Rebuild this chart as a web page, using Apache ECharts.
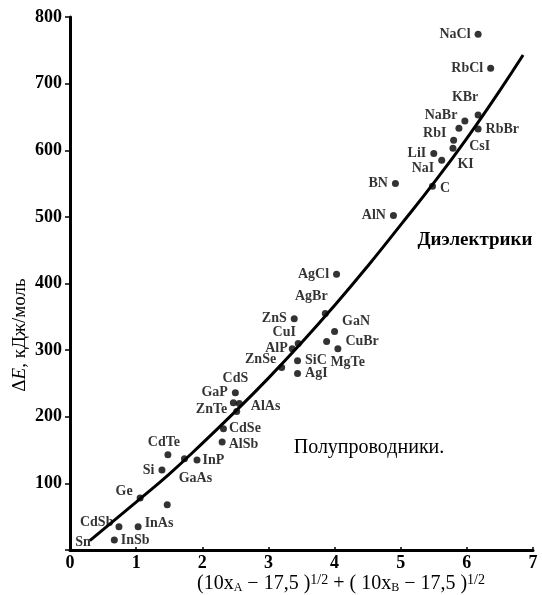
<!DOCTYPE html>
<html>
<head>
<meta charset="utf-8">
<script src="https://cdn.jsdelivr.net/npm/echarts@6/dist/echarts.min.js"></script>
<style>html,body{margin:0;padding:0;background:#fff;}#c{width:542px;height:595px;}</style>
</head>
<body>
<div id="c"></div>
<script>
// ---- data ----
const names = ["NaCl","RbCl","KBr","NaBr","RbBr","RbI","CsI","KI","LiI","NaI","C","BN","AlN",
  "AgCl","AgBr","ZnS","GaN","CuI","AlP","CuBr","MgTe","SiC","ZnSe","AgI",
  "CdS","GaP","ZnTe","AlAs","CdSe","AlSb","CdTe","GaAs","InP","Si","Ge","","CdSb","InAs","InSb","Sn"];
const xVals = [6.17,6.36,6.17,5.97,6.17,5.88,5.80,5.79,5.50,5.62,5.48,4.92,4.89,
  4.03,3.86,3.39,4.00,3.45,3.36,4.05,3.88,3.44,3.20,3.44,
  2.47,2.50,2.52,2.56,2.32,2.30,1.48,1.73,1.92,1.39,1.06,1.47,0.74,1.03,0.67,0.30];
const yVals = [774,723,653,644,632,633,615,603,595,585,546,550,502,
  414,355,347,328,310,302,302,313,284,274,265,
  221,236,208,220,182,162,143,137,135,120,78,68,35,35,15,14];
const curveX = [0.3,1,1.5,2,2.5,3,3.5,4,4.5,5,5.5,6,6.5,6.85];
const curveY = [14,72,114,160,208,258,311,367,426,488,551,618,690,743];
const xTicks = [0,1,2,3,4,5,6,7];
const yTicks = [100,200,300,400,500,600,700,800];

// ---- label placement (style only) ----
const labelPlace = {
  NaCl:['left',[0,0]], RbCl:['left',[0,0]], KBr:['top',[-13,-3]], NaBr:['left',[0,-6]],
  RbBr:['right',[0,0]], RbI:['left',[-5,5]], CsI:['right',[8,6]], KI:['right',[-3,16]],
  LiI:['left',[0,0]], NaI:['left',[0,8]], C:['right',[0,2]], BN:['left',[0,0]], AlN:['left',[0,0]],
  AgCl:['left',[0,0]], AgBr:['top',[-14,-3]], ZnS:['left',[0,0]], GaN:['right',[0,-10]],
  CuI:['top',[-14,3]], AlP:['left',[3,0]], CuBr:['right',[0,-7]], MgTe:['bottom',[21,6]],
  SiC:['right',[0,0]], ZnSe:['left',[2,-8]], AgI:['right',[0,0]], CdS:['top',[2,-10]],
  GaP:['left',[0,0]], ZnTe:['left',[-2,-2]], AlAs:['right',[4,3]], CdSe:['right',[-2,0]],
  AlSb:['right',[-1,2]], CdTe:['top',[-4,2]], GaAs:['bottom',[11,5]], InP:['right',[-2,0]],
  Si:['left',[0,0]], Ge:['left',[0,-7]], CdSb:['left',[2,-4]], InAs:['right',[-1,-3]],
  InSb:['right',[-1,0]], Sn:['left',[5,2]]
};
const serif = '"Liberation Serif","DejaVu Serif",serif';

const pts = names.map((n,i)=>{
  const p = labelPlace[n];
  const item = {name:n, value:[xVals[i], yVals[i]]};
  if (p) item.label = {show:true, position:p[0], offset:p[1], distance:4};
  else item.label = {show:false};
  if (n === 'Sn') item.symbolSize = 0;
  return item;
});

const chart = echarts.init(document.getElementById('c'), null, {renderer:'canvas'});
chart.setOption({
  animation:false,
  backgroundColor:'#fff',
  grid:{left:70, right:9, top:17, bottom:45, containLabel:false},
  xAxis:{type:'value', min:0, max:7, interval:1,
    axisLine:{show:true, onZero:false, lineStyle:{color:'#000', width:3}},
    axisTick:{show:true, inside:true, length:3, lineStyle:{color:'#000', width:1.5}},
    axisLabel:{color:'#000', fontFamily:serif, fontSize:18, fontWeight:'bold', margin:4,
      formatter:v=>xTicks.includes(v)?String(v):''},
    splitLine:{show:false}},
  yAxis:{type:'value', min:0, max:800, interval:100,
    axisLine:{show:true, onZero:false, lineStyle:{color:'#000', width:3}},
    axisTick:{show:true, inside:false, length:5, lineStyle:{color:'#000', width:1.5}},
    axisLabel:{color:'#000', fontFamily:serif, fontSize:18, fontWeight:'bold', margin:8,
      formatter:v=>yTicks.includes(v)?String(v):''},
    splitLine:{show:false}},
  series:[
    {type:'line', data:curveX.map((x,i)=>[x,curveY[i]]), smooth:true, symbol:'none',
      lineStyle:{color:'#000', width:3}, z:2},
    {type:'scatter', data:pts, symbolSize:7, itemStyle:{color:'#000'}, z:3,
      label:{color:'#000', fontFamily:serif, fontSize:14, fontWeight:'bold', formatter:'{b}'}}
  ],
  graphic:[
    {type:'text', x:20, y:335, rotation:Math.PI/2, style:{
      rich:{n:{font:'19px '+serif, fill:'#000'}, i:{font:'italic 19px '+serif, fill:'#000'}},
      text:'{n|Δ}{i|E}{n|, кДж/моль}', align:'center', verticalAlign:'middle'}},
    {type:'text', x:341, y:584, style:{
      rich:{n:{font:'20px '+serif, fill:'#000'}, s:{font:'12px '+serif, fill:'#000', padding:[8,0,0,0]}, p:{font:'14px '+serif, fill:'#000', padding:[0,0,8,0]}},
      text:'{n|(10x}{s|A}{n| − 17,5 )}{p|1/2}{n| + ( 10x}{s|B}{n| − 17,5 )}{p|1/2}',
      align:'center', verticalAlign:'middle'}},
    {type:'text', x:475, y:240, style:{text:'Диэлектрики', font:'bold 19px '+serif, fill:'#000', align:'center', verticalAlign:'middle'}},
    {type:'text', x:369, y:448, style:{text:'Полупроводники.', font:'20px '+serif, fill:'#000', align:'center', verticalAlign:'middle'}}
  ]
});
</script>
</body>
</html>
